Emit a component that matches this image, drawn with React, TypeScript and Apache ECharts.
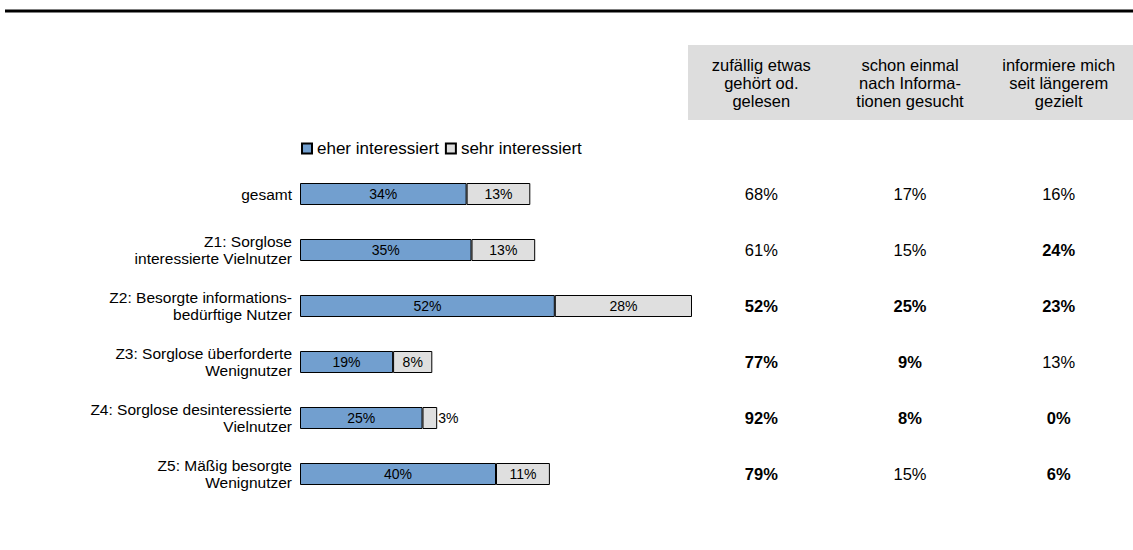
import React, { useEffect, useRef } from "react";
import * as echarts from "echarts";

const categories = [
  "gesamt",
  "Z1: Sorglose\ninteressierte Vielnutzer",
  "Z2: Besorgte informations-\nbedürftige Nutzer",
  "Z3: Sorglose überforderte\nWenignutzer",
  "Z4: Sorglose desinteressierte\nVielnutzer",
  "Z5: Mäßig besorgte\nWenignutzer",
];
const seriesNames = ["eher interessiert", "sehr interessiert"];
const eherInteressiert = [34, 35, 52, 19, 25, 40];
const sehrInteressiert = [13, 13, 28, 8, 3, 11];

const columnHeaders = [
  "zufällig etwas\ngehört od.\ngelesen",
  "schon einmal\nnach Informa-\ntionen gesucht",
  "informiere mich\nseit längerem\ngezielt",
];
const zufaellig = [68, 61, 52, 77, 92, 79];
const schonEinmal = [17, 15, 25, 9, 8, 15];
const seitLaengerem = [16, 24, 23, 13, 0, 6];
// bold = significant difference
const zufaelligBold = [false, false, true, true, true, true];
const schonEinmalBold = [false, false, true, true, true, false];
const seitLaengeremBold = [false, true, true, false, true, true];

const FONT = "Liberation Sans, Arial, sans-serif";

export default function App() {
  const ref = useRef<HTMLDivElement>(null);
  useEffect(() => {
    if (!ref.current) return;
    const chart = echarts.init(ref.current, undefined, { renderer: "svg" });
    const columns = [zufaellig, schonEinmal, seitLaengerem];
    const bolds = [zufaelligBold, schonEinmalBold, seitLaengeremBold];
    const tableData: any[] = [];
    columns.forEach((col, ci) => {
      col.forEach((v, ri) => {
        tableData.push({
          value: [columnHeaders[ci], categories[ri], v],
          label: { fontWeight: bolds[ci][ri] ? "bold" : "normal" },
        });
      });
    });
    const barLabel = {
      show: true,
      position: "inside",
      formatter: "{c}%",
      fontSize: 14,
      color: "#000",
      fontFamily: FONT,
    };
    chart.setOption({
      animation: false,
      textStyle: { fontFamily: FONT },
      legend: {
        left: 296,
        top: 135,
        itemWidth: 10,
        itemHeight: 10,
        itemGap: 6,
        icon: "rect",
        textStyle: { fontSize: 17, color: "#000", fontFamily: FONT },
        data: seriesNames,
      },
      graphic: [
        {
          type: "line",
          shape: { x1: 5, y1: 11, x2: 1133, y2: 11 },
          style: { stroke: "#000", lineWidth: 3 },
        },
        {
          type: "rect",
          z: -1,
          shape: { x: 688, y: 45, width: 445, height: 75 },
          style: { fill: "#dddddd" },
        },
      ],
      grid: [
        { left: 300, width: 490, top: 166, height: 336 },
        { left: 687, width: 455, top: 166, height: 336 },
      ],
      xAxis: [
        { type: "value", gridIndex: 0, min: 0, max: 100, show: false },
        {
          type: "category",
          gridIndex: 1,
          position: "top",
          data: columnHeaders,
          axisLine: { show: false },
          axisTick: { show: false },
          splitLine: { show: false },
          axisLabel: {
            fontSize: 16.5,
            lineHeight: 18,
            color: "#000",
            margin: 56,
            fontFamily: FONT,
            interval: 0,
          },
        },
      ],
      yAxis: [
        {
          type: "category",
          gridIndex: 0,
          inverse: true,
          data: categories,
          axisLine: { show: false },
          axisTick: { show: false },
          axisLabel: {
            fontSize: 15.5,
            lineHeight: 17,
            color: "#000",
            margin: 8,
            align: "right",
            fontFamily: FONT,
          },
        },
        {
          type: "category",
          gridIndex: 1,
          inverse: true,
          data: categories,
          show: false,
        },
      ],
      series: [
        {
          name: seriesNames[0],
          type: "bar",
          stack: "a",
          barWidth: 22,
          xAxisIndex: 0,
          yAxisIndex: 0,
          itemStyle: { color: "#729fcf", borderColor: "#000", borderWidth: 1 },
          label: barLabel,
          data: eherInteressiert,
        },
        {
          name: seriesNames[1],
          type: "bar",
          stack: "a",
          barWidth: 22,
          xAxisIndex: 0,
          yAxisIndex: 0,
          itemStyle: { color: "#dfdfdf", borderColor: "#000", borderWidth: 1 },
          label: barLabel,
          data: sehrInteressiert.map((v) =>
            v < 5 ? { value: v, label: { position: "right", distance: 1 } } : v
          ),
        },
        {
          type: "scatter",
          xAxisIndex: 1,
          yAxisIndex: 1,
          symbolSize: 0,
          itemStyle: { opacity: 1 },
          label: {
            show: true,
            position: "inside",
            fontSize: 16.5,
            color: "#000",
            fontFamily: FONT,
            formatter: (p: any) => p.value[2] + "%",
          },
          data: tableData,
        },
      ],
    });
    return () => chart.dispose();
  }, []);
  return (
    <div
      ref={ref}
      style={{ position: "absolute", left: 0, top: 0, width: 1133, height: 550 }}
    />
  );
}
